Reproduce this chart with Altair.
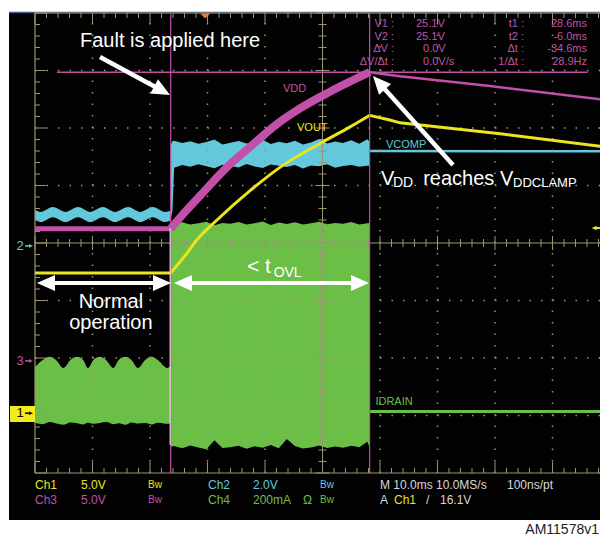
import altair as alt
import pandas as pd

FONT = "Liberation Sans"

# ---------------- scope settings ----------------
T_LEFT, T_RIGHT = -29.6, 70.4          # ms at graticule edges (10 ms/div)
T_CENTER = 20.4
PER_DIV = {"VOUT": 5.0, "VCOMP": 2.0, "VDD": 5.0, "IDRAIN": 200.0}
GND = {"VOUT": -2.96, "VCOMP": -0.05, "VDD": -2.05, "IDRAIN": -2.93}
COLOR = {"VOUT": "#ece41e", "VCOMP": "#63c8dc", "VDD": "#c24fa8", "IDRAIN": "#6bbf46"}
T_FAULT, T_CLAMP = -6.0, 28.6
TRIG_V = 16.1
CURSOR_V = 25.1
GRAT = "#9c9474"
READ = "#c052a8"
WHITE_T = "#d8d8d8"

# ---------------- traces (ms, V or mA) ----------------
vcomp_pre_t = [-29.6, -28.6, -26.5, -24.3, -22.1, -20.0, -17.8, -15.7, -13.4, -11.3, -9.1, -7.0, -6.0]
vcomp_pre_hi = [1.26, 1.18, 1.35, 1.18, 1.35, 1.18, 1.35, 1.18, 1.35, 1.18, 1.35, 1.18, 1.22]
vcomp_pre_lo = [0.91, 0.83, 1.00, 0.83, 1.00, 0.83, 1.00, 0.83, 1.00, 0.83, 1.00, 0.83, 0.87]

vcomp_post_t = [-6.0, -5.7, -5.4, -4.0, -2.6, -1.2, 0.2, 1.6, 3.0, 4.4, 5.8, 7.2, 8.6, 10.0, 11.4, 12.8,
                14.2, 15.6, 17.0, 18.4, 19.8, 21.2, 22.6, 24.0, 25.4, 26.8, 28.2, 28.6]
vcomp_post_hi = [3.50, 3.64, 3.66, 3.58, 3.64, 3.55, 3.61, 3.70, 3.53, 3.59, 3.65, 3.56, 3.61, 3.69,
                 3.54, 3.62, 3.57, 3.66, 3.53, 3.60, 3.72, 3.56, 3.63, 3.58, 3.67, 3.55, 3.71, 3.62]
vcomp_post_lo = [0.95, 1.20, 2.72, 2.81, 2.75, 2.84, 2.77, 2.70, 2.82, 2.78, 2.73, 2.85, 2.76, 2.71,
                 2.83, 2.79, 2.74, 2.81, 2.69, 2.80, 2.77, 2.84, 2.72, 2.78, 2.81, 2.75, 2.79, 2.80]
vcomp_after_t = [28.6, 70.4]
vcomp_after_v = [3.30, 3.29]

idrain_pre_t = [-29.6, -28.2, -27.0, -25.9, -24.7, -23.4, -22.3, -21.2, -20.4, -19.4, -18.3, -17.2,
                -16.0, -15.0, -13.9, -12.8, -11.7, -10.4, -9.3, -8.2, -6.6, -6.0]
idrain_pre_hi = [155, 180, 190, 178, 151, 180, 190, 178, 151, 180, 190, 178, 151, 180, 190, 178,
                 151, 180, 190, 178, 151, 160]
idrain_pre_lo = [-40, -44, -37, -42, -46, -38, -41, -45, -39, -43, -40, -37, -44, -41, -46, -38,
                 -42, -40, -45, -39, -43, -41]
idrain_post_t = [-6.0, -5.4, -4.0, -2.6, -1.2, 0.2, 1.6, 3.0, 4.4, 5.8, 7.2, 8.6, 10.0, 11.4, 12.8,
                 14.2, 15.6, 17.0, 18.4, 19.8, 21.2, 22.6, 24.0, 25.4, 26.8, 28.2, 28.6]
idrain_post_hi = [655, 652, 658, 650, 655, 660, 648, 656, 653, 659, 650, 655, 661, 649, 657, 652,
                  658, 650, 655, 660, 651, 656, 653, 659, 650, 655, 656]
idrain_post_lo = [-123, -120, -128, -118, -125, -131, -100, -127, -124, -119, -130, -121, -126, -117,
                  -128, -96, -120, -129, -125, -118, -127, -122, -126, -119, -124, -105, -125]
idrain_after_t = [28.6, 70.4]
idrain_after_v = [0, 0]

vdd_pre_t = [-29.6, -6.0]
vdd_pre_v = [11.5, 11.5]
vdd_rise_t = [-6.0, -3.5, -0.9, 3.8, 7.8, 12.5, 16.0, 21.7, 28.6]
vdd_rise_v = [11.5, 12.95, 14.35, 16.85, 18.6, 20.6, 21.8, 23.4, 25.1]
vdd_decay_t = [28.6, 33.9, 49.5, 70.4]
vdd_decay_v = [25.1, 24.75, 23.9, 22.65]

vout_pre_t = [-29.6, -6.0]
vout_pre_v = [12.2, 12.2]
vout_rise_t = [-6.0, -3.5, -1.4, 2.05, 7.8, 13.5, 20.5, 25.2, 28.6]
vout_rise_v = [12.2, 13.7, 15.1, 16.8, 19.35, 21.55, 23.6, 24.9, 25.9]
vout_decay_t = [28.6, 32.1, 33.9, 51.3, 70.4]
vout_decay_v = [25.9, 25.5, 25.25, 24.3, 23.1]

# ---------------- readouts ----------------
cursor_labels = ["V1 :", "V2 :", "ΔV :", "ΔV/Δt :"]
cursor_values = ["25.1V", "25.1V", "0.0V", "0.0V/s"]
time_labels = ["t1 :", "t2 :", "Δt :", "1/Δt :"]
time_values = ["28.6ms", "-6.0ms", "-34.6ms", "28.9Hz"]

XS = alt.Scale(domain=[T_LEFT, T_RIGHT], range=[27, 602], nice=False, zero=False)
YS = alt.Scale(domain=[-4, 4], range=[465, 5], nice=False, zero=False)
PX_T = (T_RIGHT - T_LEFT) / 575.0
PX_D = 8 / 460.0


def ex():
    return alt.X("t:Q", scale=XS, axis=None)


def ey():
    return alt.Y("d:Q", scale=YS, axis=None, stack=None)


def div(vals, ch):
    return [v / PER_DIV[ch] + GND[ch] for v in vals]


def band(t, hi, lo, ch, interp="linear"):
    df = pd.DataFrame({"t": t, "d": div(hi, ch), "d2": div(lo, ch)})
    return alt.Chart(df).mark_area(color=COLOR[ch], interpolate=interp, opacity=1).encode(
        x=ex(), y=ey(), y2="d2:Q")


def trace(t, v, ch, width, interp="linear"):
    df = pd.DataFrame({"t": t, "d": div(v, ch)})
    return alt.Chart(df).mark_line(color=COLOR[ch], strokeWidth=width, interpolate=interp).encode(
        x=ex(), y=ey())


def rules(rows, dash=None):
    df = pd.DataFrame(rows, columns=["t", "t2", "d", "d2", "c", "w"])
    kw = {} if dash is None else {"strokeDash": dash}
    return alt.Chart(df).mark_rule(**kw).encode(
        x=ex(), x2="t2:Q", y=ey(), y2="d2:Q",
        color=alt.Color("c:N", scale=None), strokeWidth=alt.StrokeWidth("w:Q", scale=None))


def texts(rows, align="left", baseline="middle", font=FONT):
    df = pd.DataFrame(rows, columns=["t", "d", "s", "c", "fs"])
    return alt.Chart(df).mark_text(align=align, baseline=baseline, font=font).encode(
        x=ex(), y=ey(), text="s:N", color=alt.Color("c:N", scale=None),
        size=alt.Size("fs:Q", scale=None))


HEAD = "M0,0 L-1,-0.45 L-1,0.45 Z"


def heads(rows, shape=HEAD):
    df = pd.DataFrame(rows, columns=["t", "d", "a", "sz", "c"])
    return alt.Chart(df).mark_point(shape=shape, filled=True, opacity=1, strokeWidth=0).encode(
        x=ex(), y=ey(), angle=alt.Angle("a:Q", scale=None),
        size=alt.Size("sz:Q", scale=None), color=alt.Color("c:N", scale=None))


layers = []

# screen
screen = pd.DataFrame({"t": [-34.12], "t2": [76.0], "d": [-4.817], "d2": [4.017]})
layers.append(alt.Chart(screen).mark_rect(color="#020202").encode(x=ex(), x2="t2:Q", y=ey(), y2="d2:Q"))
layers.append(rules([(-34.12, 76.0, 4.01, 4.01, "#3b5f86", 1.5)]))

# green and cyan bands
layers.append(band(idrain_pre_t, idrain_pre_hi, idrain_pre_lo, "IDRAIN", "monotone"))
layers.append(band(idrain_post_t, idrain_post_hi, idrain_post_lo, "IDRAIN"))
layers.append(trace(idrain_after_t, idrain_after_v, "IDRAIN", 3))
layers.append(band(vcomp_pre_t, vcomp_pre_hi, vcomp_pre_lo, "VCOMP", "monotone"))
layers.append(band(vcomp_post_t, vcomp_post_hi, vcomp_post_lo, "VCOMP"))
layers.append(trace(vcomp_after_t, vcomp_after_v, "VCOMP", 2.5))

# graticule
dot_rows = []
for k in range(1, 10):
    if k != 5:
        tk = T_LEFT + 10 * k
        dot_rows.append((tk, tk, -4, 4, GRAT, 1.5))
for j in range(-3, 4):
    if j != 0:
        dot_rows.append((T_LEFT, T_RIGHT, j, j, GRAT, 1.5))
layers.append(rules(dot_rows, dash=[1.5, 10]))

g_rows = [
    (T_LEFT, T_RIGHT, 0, 0, GRAT, 1), (T_CENTER, T_CENTER, -4, 4, GRAT, 1),
    (T_LEFT, T_LEFT, -4, 4, GRAT, 1.2), (T_RIGHT, T_RIGHT, -4, 4, GRAT, 1.2),
    (T_LEFT, T_RIGHT, -4, -4, GRAT, 1.2), (T_LEFT, T_RIGHT, 4, 4, GRAT, 1.2),
]
for k in range(51):
    tk = T_LEFT + 2 * k
    c = 7 if k % 5 == 0 else 4
    e = 11 if k % 5 == 0 else 5
    g_rows.append((tk, tk, -c * PX_D, c * PX_D, GRAT, 1))
    g_rows.append((tk, tk, -4, -4 + e * PX_D, GRAT, 1))
    g_rows.append((tk, tk, 4 - e * PX_D, 4, GRAT, 1))
for k in range(41):
    dk = -4 + 0.2 * k
    c = 7 if k % 5 == 0 else 4
    e = 11 if k % 5 == 0 else 5
    g_rows.append((T_CENTER - c * PX_T, T_CENTER + c * PX_T, dk, dk, GRAT, 1))
    g_rows.append((T_LEFT, T_LEFT + e * PX_T, dk, dk, GRAT, 1))
    g_rows.append((T_RIGHT - e * PX_T, T_RIGHT, dk, dk, GRAT, 1))
layers.append(rules(g_rows))

# magenta and yellow traces
layers.append(trace(vdd_pre_t, vdd_pre_v, "VDD", 5))
layers.append(trace(vdd_rise_t, vdd_rise_v, "VDD", 8, "monotone"))
layers.append(trace(vdd_decay_t, vdd_decay_v, "VDD", 2.5))
layers.append(trace(vout_pre_t, vout_pre_v, "VOUT", 3))
layers.append(trace(vout_rise_t, vout_rise_v, "VOUT", 3, "monotone"))
layers.append(trace(vout_decay_t, vout_decay_v, "VOUT", 3))

# cursors
cur_d = CURSOR_V / PER_DIV["VDD"] + GND["VDD"]
layers.append(rules([
    (T_FAULT, T_FAULT, -4, 3.98, COLOR["VDD"], 1.2),
    (T_CLAMP, T_CLAMP, -4, 3.98, COLOR["VDD"], 1.2),
    (-25.8, 66.5, cur_d, cur_d, COLOR["VDD"], 1.5),
    (T_FAULT - 0.1, T_FAULT - 0.1, -3.51, 0.26, "#f4f4f4", 1),
]))

# trace labels
layers.append(texts([
    (13.53, 2.678, "VDD", COLOR["VDD"], 11),
    (15.97, 2.0, "VOUT", COLOR["VOUT"], 11),
    (31.44, 1.704, "VCOMP", COLOR["VCOMP"], 11),
    (29.6, -2.765, "IDRAIN", COLOR["IDRAIN"], 11),
]))

# cursor readouts
row_d = [3.809, 3.583, 3.374, 3.148]
layers.append(texts([(32.83, row_d[i], cursor_labels[i], READ, 11) for i in range(4)]
                    + [(55.44, row_d[i], time_labels[i], READ, 11) for i in range(4)]
                    + [(66.4, row_d[i], time_values[i], READ, 11) for i in range(4)], align="right"))
layers.append(texts([(36.66 if i < 2 else 37.88, row_d[i], cursor_values[i], READ, 11) for i in range(4)]))

# bottom readouts
r1, r2 = -4.209, -4.470
Y_, C_, M_, G_ = COLOR["VOUT"], COLOR["VCOMP"], COLOR["VDD"], COLOR["IDRAIN"]
layers.append(texts([
    (-29.6, r1, "Ch1", Y_, 12), (-21.6, r1, "5.0V", Y_, 12), (-9.95, r1, "Bw", Y_, 10),
    (0.49, r1, "Ch2", C_, 12), (8.31, r1, "2.0V", C_, 12), (19.97, r1, "Bw", C_, 10),
    (30.4, r1, "M 10.0ms 10.0MS/s", WHITE_T, 12), (52.49, r1, "100ns/pt", WHITE_T, 12),
    (-29.6, r2, "Ch3", M_, 12), (-21.6, r2, "5.0V", M_, 12), (-9.95, r2, "Bw", M_, 10),
    (0.49, r2, "Ch4", G_, 12), (8.31, r2, "200mA", G_, 12), (17.0, r2, "Ω", G_, 12),
    (19.97, r2, "Bw", G_, 10), (30.4, r2, "A", WHITE_T, 12), (32.83, r2, "Ch1", Y_, 12),
    (38.4, r2, "/", WHITE_T, 12), (40.83, r2, "16.1V", WHITE_T, 12),
]))

# channel ground markers and trigger markers
box = pd.DataFrame({"t": [-33.95], "t2": [-29.6], "d": [-2.835], "d2": [-3.113]})
layers.append(alt.Chart(box).mark_rect(color="#f3ea1c").encode(x=ex(), x2="t2:Q", y=ey(), y2="d2:Q"))
trig_d = TRIG_V / PER_DIV["VOUT"] + GND["VOUT"]
layers.append(rules([
    (-31.34, -30.6, GND["VCOMP"], GND["VCOMP"], C_, 1.5),
    (-31.34, -30.6, GND["VDD"], GND["VDD"], M_, 1.5),
    (-31.34, -30.6, GND["VOUT"], GND["VOUT"], "#000000", 1.5),
    (67.9, 70.4, trig_d, trig_d, Y_, 2),
]))
layers.append(heads([
    (-29.95, GND["VCOMP"], 0, 64, C_),
    (-29.95, GND["VDD"], 0, 64, M_),
    (-29.95, GND["VOUT"], 0, 64, "#000000"),
    (67.2, trig_d, 180, 100, Y_),
]))
layers.append(texts([
    (-32.21, GND["VCOMP"], "2", C_, 13),
    (-32.21, GND["VDD"], "3", M_, 13),
    (-32.21, GND["VOUT"], "1", "#000000", 13),
], align="center"))
layers.append(heads([(0.0, 3.948, 0, 100, "#f07b2a")], shape="M-1,-0.5 L1,-0.5 L0,0.5 Z"))

# annotations
layers.append(rules([
    (-18.30, -8.26, 3.235, 2.690, "#ffffff", 4.5),
    (43.10, 30.82, 1.357, 2.723, "#ffffff", 4.5),
    (-26.8, -8.4, -0.696, -0.696, "#ffffff", 4),
    (-3.0, 26.06, -0.696, -0.696, "#ffffff", 4),
]))
layers.append(heads([
    (-6.12, 2.574, 28.5, 1296, "#ffffff"),
    (29.18, 2.904, 228.0, 1296, "#ffffff"),
    (-29.25, -0.696, 180, 1296, "#ffffff"),
    (-5.95, -0.696, 0, 1296, "#ffffff"),
    (-5.43, -0.696, 180, 1296, "#ffffff"),
    (28.49, -0.696, 0, 1296, "#ffffff"),
]))
layers.append(texts([
    (-21.77, 3.409, "Fault is applied here", "#ffffff", 20),
    (7.27, -0.522, "< t", "#ffffff", 21),
    (11.9, -0.591, "OVL", "#ffffff", 14),
    (30.57, 1.009, "V", "#ffffff", 20),
    (32.66, 0.974, "DD", "#ffffff", 14),
    (37.9, 1.009, "reaches", "#ffffff", 20),
    (51.27, 1.009, "V", "#ffffff", 20),
    (53.53, 0.974, "DDCLAMP", "#ffffff", 13),
], baseline="alphabetic"))
layers.append(texts([
    (-16.4, -1.122, "Normal", "#ffffff", 20),
    (-16.4, -1.504, "operation", "#ffffff", 20),
], align="center", baseline="alphabetic"))

layers.append(texts([(68.49, -4.991, "AM11578v1", "#222222", 14)], align="right"))

chart = alt.layer(*layers).properties(
    width=592, height=530, autosize=alt.AutoSizeParams(type="none"), padding=0, background="white"
).configure_view(stroke=None)

chart.save("out.html", embed_options={"renderer": "svg", "actions": False})
